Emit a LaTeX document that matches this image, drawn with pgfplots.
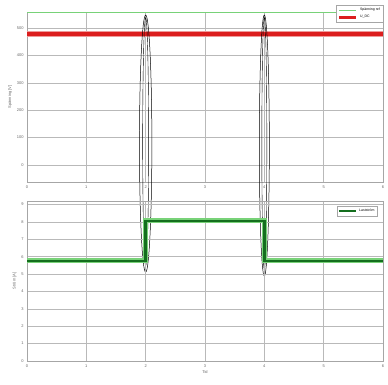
\documentclass[border=0pt]{standalone}
\usepackage{pgfplots}
\pgfplotsset{compat=1.18}
\usepackage{fontspec}
\setmainfont{Liberation Sans}
\definecolor{dkgreen}{RGB}{20,110,30}
\definecolor{ltgreen}{RGB}{120,210,120}
\definecolor{myred}{RGB}{220,30,30}
\pgfplotsset{
  common/.style={
    scale only axis, width=356bp,
    xmin=0, xmax=6, xtick={0,1,...,6},
    grid=major,
    major grid style={gray!55, line width=0.4pt},
    axis line style={gray!70, line width=0.5pt},
    tick style={draw=none},
    tick label style={font=\fontsize{4}{5}\selectfont, text=gray!80!black},
    label style={font=\fontsize{4}{5}\selectfont, text=gray!80!black},
    legend style={font=\fontsize{3.5}{4}\selectfont, draw=gray!70, line width=0.3pt,
      inner sep=1pt, row sep=-1pt},
    legend cell align=left,
    /pgf/number format/assume math mode=true,
    clip=false,
  }
}
\begin{document}
\begin{tikzpicture}
\path[use as bounding box] (0,0) rectangle (388bp,385bp);
% top panel
\begin{axis}[common, at={(27bp,373bp)}, anchor=north west, height=170bp,
  ymin=-62, ymax=558, ytick={0,100,...,500}, yticklabels={0,100,200,300,400,500},
  ylabel={Spänning [V]}, ylabel style={yshift=-2pt},
  legend style={at={(1,1.04)}, anchor=north east}]
\addplot[ltgreen, line width=0.6pt] coordinates {(0,556) (6,556)};
\addlegendentry{Spänning ref}
\addplot[myred!45, line width=5.5bp, forget plot] coordinates {(0,478) (6,478)};
\addplot[myred, line width=3.5bp] coordinates {(0,478) (6,478)};
\addlegendentry{U\_DC}
\draw[black, line width=0.5pt] (axis cs:2,78) ellipse [x radius=6.2bp, y radius=128.5bp];
\draw[black, line width=0.4pt] (axis cs:2,85) ellipse [x radius=3bp, y radius=124bp];
\draw[black, line width=0.5pt] (axis cs:4,71) ellipse [x radius=5bp, y radius=130.5bp];
\draw[black, line width=0.4pt] (axis cs:4,78) ellipse [x radius=2.5bp, y radius=126bp];
\end{axis}
% bottom panel
\begin{axis}[common, at={(27bp,184bp)}, anchor=north west, height=160bp,
  ymin=0, ymax=9.2, ytick={0,1,...,9},
  xlabel={Tid}, xlabel style={yshift=4pt},
  ylabel={Ström [A]}, ylabel style={yshift=-2pt},
  legend style={at={(0.985,0.97)}, anchor=north east}]
\addplot[ltgreen, line width=5bp, forget plot] coordinates {(0,5.75) (2,5.75) (2,8.05) (4,8.05) (4,5.75) (6,5.75)};
\addplot[dkgreen, line width=2.5bp] coordinates {(0,5.75) (2,5.75) (2,8.05) (4,8.05) (4,5.75) (6,5.75)};
\addlegendentry{Lastström}
\end{axis}
\end{tikzpicture}
\end{document}
